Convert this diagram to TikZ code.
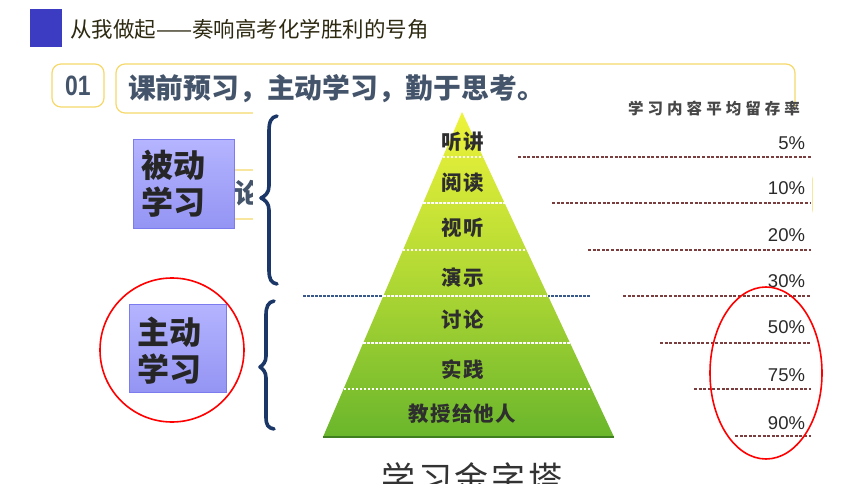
\documentclass[tikz,border=0pt]{standalone}
\usepackage{fontspec}
\setmainfont{Liberation Sans}
\newfontfamily\cjk{Noto Sans CJK SC}
\newfontfamily\cjkls[LetterSpace=26]{Noto Sans CJK SC}
\newfontfamily\cjkpy[LetterSpace=6]{Noto Sans CJK SC}
\newfontfamily\cjkti[LetterSpace=8]{Noto Sans CJK SC}
\usetikzlibrary{calc}
\definecolor{ybord}{HTML}{F7D96B}
\definecolor{slate}{HTML}{44546A}
\definecolor{navy}{HTML}{1B3768}
\definecolor{sqblue}{HTML}{3C3CC2}
\definecolor{titlecol}{HTML}{2E2A12}
\definecolor{lavtop}{HTML}{B4B4FF}
\definecolor{lavbot}{HTML}{9494F4}
\definecolor{lavbord}{HTML}{7C7CEE}
\definecolor{pyrtop}{HTML}{EEF33A}
\definecolor{pyrmid}{HTML}{B2D934}
\definecolor{pyrbot}{HTML}{6AB62C}
\definecolor{pyredge}{HTML}{3F7F1E}
\definecolor{reddash}{HTML}{7A3E3E}
\definecolor{bluedash}{HTML}{3B5A8C}
\definecolor{pct}{HTML}{2A2A2A}
\begin{document}
\begin{tikzpicture}[x=1pt,y=-1pt,
  every node/.style={inner sep=0pt,outer sep=0pt},
  ybox/.style={draw=ybord,line width=1.2pt,rounded corners=9pt},
  lavbox/.style={draw=lavbord,line width=1pt,top color=lavtop,bottom color=lavbot},
  lavtext/.style={font=\cjk\bfseries\fontsize{32}{37}\selectfont,text=black!85,align=left},
  pyrlabel/.style={font=\cjkpy\bfseries\fontsize{20.5}{24}\selectfont,text=black!82},
  pctlabel/.style={font=\fontsize{18.5}{20}\selectfont,text=pct,anchor=east},
  sepline/.style={white,line width=1.3pt,dash pattern=on 2.5pt off 1.5pt},
  retline/.style={reddash,line width=1.6pt,dash pattern=on 3pt off 1.6pt},
  brace/.style={navy,line width=3.6pt,line cap=round,line join=round},
  redring/.style={red,line width=1.6pt}]
\useasboundingbox (0,0) rectangle (860,484);
\clip (0,0) rectangle (860,484);
\fill[white] (0,0) rectangle (860,484);
% header
\fill[sqblue] (30,9) rectangle (62,47);
\node[anchor=west,text=titlecol,font=\cjk\fontsize{21.5}{24}\selectfont] (title) at (70,29) {从我做起——奏响高考化学胜利的号角};
% boxes behind image
\draw[ybox] (52,64) rectangle (104,107);
\node[text=slate,font=\bfseries\fontsize{28}{30}\selectfont] (num) at (78,86) {\scalebox{0.82}[1]{01}};
\draw[ybox] (116,64) rectangle (795,113);
\draw[ybox] (145,170) rectangle (812,219);
\node[anchor=west,text=slate,font=\cjk\bfseries\fontsize{27}{30}\selectfont] (lun) at (234,193) {论};
% image area
\fill[white] (253,107) rectangle (812,484);
\node[anchor=west,text=slate,font=\cjk\bfseries\fontsize{27.8}{30}\selectfont] (head) at (128,89) {课前预习，主动学习，勤于思考。};
% pyramid
\coordinate (A) at (462,112);
\coordinate (L) at (323,437);
\coordinate (R) at (614,437);
\shade[top color=pyrtop,bottom color=pyrbot,middle color=pyrmid] (A) -- (R) -- (L) -- cycle;
\draw[pyredge,line width=1.6pt] (L) -- (R);
\draw[bluedash,line width=1.4pt,dash pattern=on 2.5pt off 1.5pt] (303,296) -- (590,296);
\foreach \t in {0.1385,0.28,0.4246,0.566,0.7108,0.8523}{
  \draw[sepline] ($(A)!\t!(L)$) -- ($(A)!\t!(R)$);
}
\node[pyrlabel] (p1) at (462.5,142) {听讲};
\node[pyrlabel] (p2) at (462.5,183) {阅读};
\node[pyrlabel] (p3) at (462.5,228) {视听};
\node[pyrlabel] (p4) at (462.5,278) {演示};
\node[pyrlabel] (p5) at (462.5,320) {讨论};
\node[pyrlabel] (p6) at (462.5,370) {实践};
\node[pyrlabel] (p7) at (462.5,414) {教授给他人};
\node[font=\cjkti\fontsize{34}{36}\selectfont,text=black!80] (ptitle) at (472,478) {学习金字塔};
% retention column
\node[font=\cjkls\bfseries\fontsize{15.5}{17}\selectfont,text=black!72] (rhead) at (714,109) {学习内容平均留存率};
\node[pctlabel] (r1) at (805,143) {5\%};
\node[pctlabel] (r2) at (805,188) {10\%};
\node[pctlabel] (r3) at (805,235) {20\%};
\node[pctlabel] (r4) at (805,281) {30\%};
\node[pctlabel] (r5) at (805,327) {50\%};
\node[pctlabel] (r6) at (805,375) {75\%};
\node[pctlabel] (r7) at (805,423) {90\%};
\draw[retline] (518,157) -- (811,157);
\draw[retline] (552,203) -- (811,203);
\draw[retline] (588,250) -- (811,250);
\draw[retline] (623,296) -- (811,296);
\draw[retline] (660,343) -- (811,343);
\draw[retline] (694,389) -- (811,389);
\draw[retline] (735,436) -- (811,436);
% braces
\draw[brace] (277,116) .. controls (271,117) and (269,122) .. (269,131) -- (269,186) .. controls (269,193) and (265,196) .. (261,198) .. controls (265,200) and (269,203) .. (269,210) -- (269,270) .. controls (269,279) and (271,283) .. (277,284);
\draw[brace] (274,301) .. controls (268,302) and (266,307) .. (266,315) -- (266,356) .. controls (266,362) and (263,365) .. (260,367) .. controls (263,369) and (266,372) .. (266,378) -- (266,417) .. controls (266,425) and (268,428) .. (274,429);
% lavender boxes
\draw[lavbox] (133,140) rectangle (234,228);
\node[lavtext] (passive) at (173.5,184) {被动\\学习};
\draw[lavbox] (129,304) rectangle (226,392);
\node[lavtext] (active) at (169,351) {主动\\学习};
% red rings
\draw[redring] (172,350) circle [radius=72];
\draw[redring] (766,373) ellipse [x radius=56,y radius=86];
\end{tikzpicture}
\end{document}
